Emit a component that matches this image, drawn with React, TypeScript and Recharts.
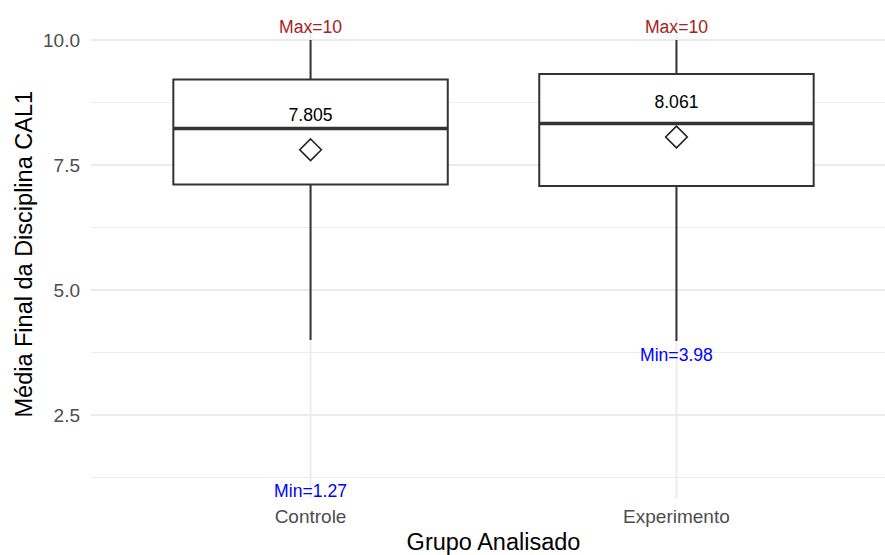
import React from 'react';
import {
  ComposedChart,
  XAxis,
  YAxis,
  CartesianGrid,
  ReferenceArea,
  ReferenceLine,
  Scatter,
} from 'recharts';

// ---- data ----
const categories = ['Controle', 'Experimento'];
const q1Values = [7.11, 7.08];
const medianValues = [8.23, 8.33];
const q3Values = [9.21, 9.32];
const lowerWhisker = [4.0, 3.98];
const upperWhisker = [10, 10];
const meanValues = [7.805, 8.061];
const minValues = [1.27, 3.98];
const maxValues = [10, 10];
const yTicks = [2.5, 5, 7.5, 10];
const yMinorTicks = [1.25, 3.75, 6.25, 8.75];
const yDomain: [number, number] = [0.83, 10.44];
const xDomain: [number, number] = [0.4, 2.6];
const xPositions = categories.map((_, i) => i + 1);

const FONT = '"Liberation Sans", Arial, Helvetica, sans-serif';
const BOX_HALF = 0.375;
const LINE = '#333333';

const meanData = categories.map((c, i) => ({ x: i + 1, y: meanValues[i], label: meanValues[i].toFixed(3) }));
const maxData = categories.map((c, i) => ({ x: i + 1, y: maxValues[i], label: `Max=${maxValues[i]}` }));
const minData = categories.map((c, i) => ({ x: i + 1, y: minValues[i], label: `Min=${minValues[i]}` }));

const textShape = (dy: number, color: string) => (props: any) => (
  <text
    x={props.cx}
    y={props.cy + dy}
    textAnchor="middle"
    fill={color}
    fontSize={17.6}
    fontFamily={FONT}
  >
    {props.payload.label}
  </text>
);

const diamondShape = (props: any) => {
  const { cx, cy } = props;
  const r = 10.8;
  return (
    <path
      d={`M${cx},${cy - r} L${cx + r},${cy} L${cx},${cy + r} L${cx - r},${cy} Z`}
      fill="none"
      stroke="#222"
      strokeWidth={1.6}
    />
  );
};

const YTitle = (props: any) => {
  const vb = props.viewBox;
  const cx = vb.x + 32;
  const cy = vb.y + vb.height / 2 - 4;
  return (
    <text
      x={cx}
      y={cy}
      transform={`rotate(-90 ${cx} ${cy})`}
      textAnchor="middle"
      fill="#000"
      fontSize={23.5}
      fontFamily={FONT}
    >
      Média Final da Disciplina CAL1
    </text>
  );
};

const XTitle = (props: any) => {
  const vb = props.viewBox;
  const cx = vb.x + vb.width / 2;
  const cy = vb.y + vb.height - 5;
  return (
    <text x={cx} y={cy} textAnchor="middle" fill="#000" fontSize={23.5} fontFamily={FONT}>
      Grupo Analisado
    </text>
  );
};

export default function App() {
  return (
    <div
      style={{
        position: 'absolute',
        left: 0,
        top: 0,
        width: 885,
        height: 555,
        overflow: 'hidden',
        background: '#fff',
      }}
    >
      <ComposedChart width={896} height={555} margin={{ top: 18, right: 0, bottom: 0, left: 0 }}>
        <CartesianGrid
          horizontal
          vertical={false}
          horizontalValues={yMinorTicks}
          stroke="#EBEBEB"
          strokeWidth={0.9}
        />
        <CartesianGrid
          horizontal
          vertical
          horizontalValues={yTicks}
          verticalValues={xPositions}
          stroke="#EBEBEB"
          strokeWidth={1.8}
        />
        <XAxis
          type="number"
          dataKey="x"
          domain={xDomain}
          allowDataOverflow
          ticks={xPositions}
          tickFormatter={(v: number) => categories[v - 1] ?? ''}
          axisLine={false}
          tickLine={false}
          tickSize={0}
          tickMargin={11}
          height={56.5}
          tick={{ fill: '#4D4D4D', fontSize: 19, fontFamily: FONT }}
          interval={0}
          label={{ content: XTitle }}
        />
        <YAxis
          type="number"
          dataKey="y"
          domain={yDomain}
          allowDataOverflow
          ticks={yTicks}
          tickFormatter={(v: number) => v.toFixed(1)}
          axisLine={false}
          tickLine={false}
          tickSize={0}
          tickMargin={11}
          width={91}
          tick={{ fill: '#4D4D4D', fontSize: 19, fontFamily: FONT }}
          interval={0}
          label={{ content: YTitle }}
        />
        {categories.map((c, i) => (
          <ReferenceLine
            key={`wu-${c}`}
            segment={[
              { x: i + 1, y: q3Values[i] },
              { x: i + 1, y: upperWhisker[i] },
            ]}
            stroke={LINE}
            strokeWidth={2}
          />
        ))}
        {categories.map((c, i) => (
          <ReferenceLine
            key={`wl-${c}`}
            segment={[
              { x: i + 1, y: lowerWhisker[i] },
              { x: i + 1, y: q1Values[i] },
            ]}
            stroke={LINE}
            strokeWidth={2}
          />
        ))}
        {categories.map((c, i) => (
          <ReferenceArea
            key={`box-${c}`}
            x1={i + 1 - BOX_HALF}
            x2={i + 1 + BOX_HALF}
            y1={q1Values[i]}
            y2={q3Values[i]}
            fill="#ffffff"
            fillOpacity={1}
            stroke={LINE}
            strokeWidth={2}
          />
        ))}
        {categories.map((c, i) => (
          <ReferenceLine
            key={`med-${c}`}
            segment={[
              { x: i + 1 - BOX_HALF, y: medianValues[i] },
              { x: i + 1 + BOX_HALF, y: medianValues[i] },
            ]}
            stroke={LINE}
            strokeWidth={3.6}
          />
        ))}
        <Scatter data={meanData} dataKey="y" shape={diamondShape} isAnimationActive={false} />
        <Scatter data={meanData} dataKey="y" shape={textShape(-29, '#000')} isAnimationActive={false} />
        <Scatter data={maxData} dataKey="y" shape={textShape(-7, '#A51E1E')} isAnimationActive={false} />
        <Scatter data={minData} dataKey="y" shape={textShape(20, '#0000FF')} isAnimationActive={false} />
      </ComposedChart>
    </div>
  );
}
